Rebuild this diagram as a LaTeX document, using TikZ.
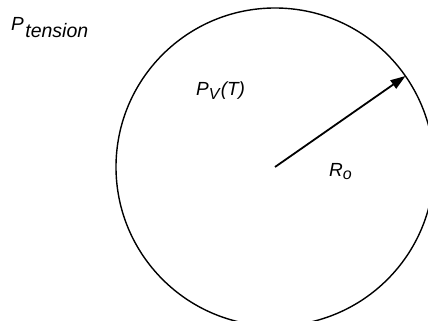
\documentclass[tikz,border=0pt]{standalone}
\usepackage{fontspec}
\setmainfont{Liberation Sans}
\usetikzlibrary{arrows.meta}
% #1 main letter, #2 subscript, #3 subscript size, #4 kern, #5 drop
\newcommand{\lbl}[5]{\textit{#1}\kern#4\raisebox{-#5}{\fontsize{#3}{#3}\selectfont\textit{#2}}}
\begin{document}
\begin{tikzpicture}[x=1pt,y=-1pt,
  txt/.style={inner sep=0pt,anchor=base west,font=\fontsize{19}{19}\selectfont},
  ring/.style={line width=1.4pt},
  radius arrow/.style={line width=1.8pt,-{Triangle[length=15pt,width=10pt]}}]
\useasboundingbox (0,0) rectangle (428,321);
\clip (0,0) rectangle (428,321);
\coordinate (c) at (275,167);
\draw[ring] (c) circle[radius=159];
\coordinate (e) at (405.5,76);
\draw[radius arrow] (c) -- (e);
\node[txt] (pt) at (11,31) {\lbl{P}{tension}{19.5}{1.5pt}{6pt}};
\node[txt] (pv) at (196,95) {\lbl{P}{V}{16}{0pt}{4pt}\textit{(T)}};
\node[txt] (ro) at (329,176) {\lbl{R}{o}{16}{0pt}{3pt}};
\end{tikzpicture}
\end{document}
